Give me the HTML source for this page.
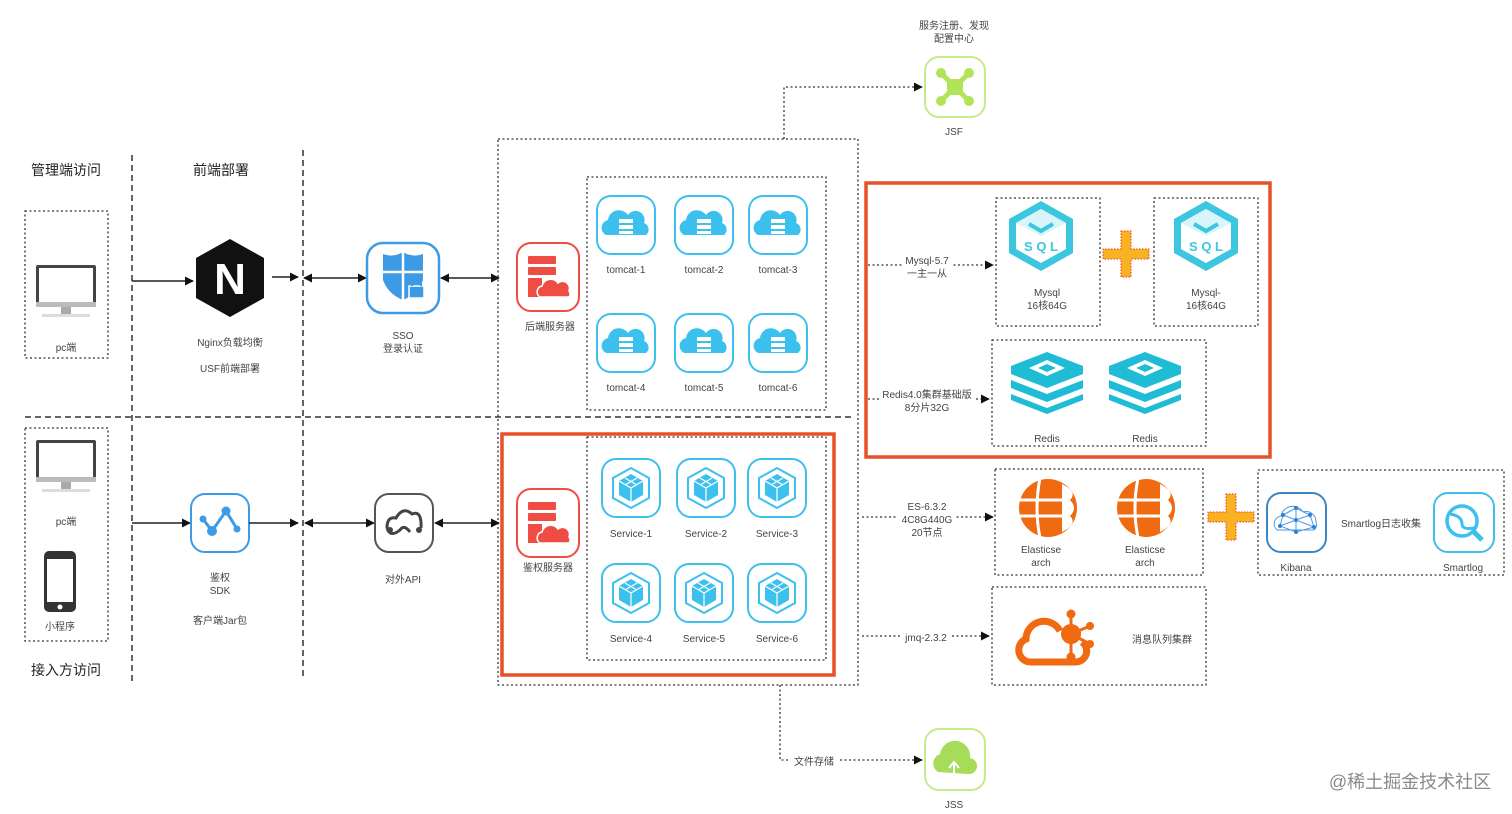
<!DOCTYPE html>
<html><head><meta charset="utf-8"><style>
html,body{margin:0;padding:0;background:#fff;}
svg{display:block;font-family:"Liberation Sans","Noto Sans CJK SC",sans-serif;}
.t{font-size:10px;fill:#444;text-anchor:middle;}
.h{font-size:14px;fill:#222;text-anchor:middle;}
.dot{fill:none;stroke:#333;stroke-width:1.3;stroke-dasharray:2,2.5;}
.dash{fill:none;stroke:#333;stroke-width:1.5;stroke-dasharray:6,4;}
.ln{stroke:#222;stroke-width:1.5;fill:none;}
</style></head><body>
<svg width="1512" height="814" viewBox="0 0 1512 814">
<defs>
<marker id="a" viewBox="0 0 10 10" refX="9" refY="5" markerWidth="9" markerHeight="9" orient="auto-start-reverse" markerUnits="userSpaceOnUse"><path d="M0,0L10,5L0,10z" fill="#111"/></marker>
<g id="tom"><rect x="-29" y="-29" width="58" height="58" rx="14" fill="#fff" stroke="#3cc0ee" stroke-width="2"/><path d="M-20,10 a8,8 0 0 1 2,-15 a11,11 0 0 1 20,-5 a9,9 0 0 1 16,8 a7,7 0 0 1 2,12z" fill="#3cc0ee"/><rect x="-7" y="-6" width="14" height="4" fill="#fff"/><rect x="-7" y="0" width="14" height="4" fill="#fff"/><rect x="-7" y="6" width="14" height="3" fill="#fff"/></g>
<g id="svc"><rect x="-29" y="-29" width="58" height="58" rx="14" fill="#fff" stroke="#3cc0ee" stroke-width="2"/><path d="M0,-20 L18,-10 L18,10 L0,20 L-18,10 L-18,-10z" fill="none" stroke="#3cc0ee" stroke-width="2"/><path d="M0,-14 L12,-7 L12,7 L0,14 L-12,7 L-12,-7z" fill="#3cc0ee"/><path d="M-12,-7 L0,0 L12,-7 M0,0 L0,14 M-6,-10 L6,-3 M6,-10 L-6,-3" stroke="#fff" stroke-width="1.2" fill="none"/></g>
<g id="srv"><rect x="-31" y="-34" width="62" height="68" rx="14" fill="#fff" stroke="#ef4d43" stroke-width="2"/><rect x="-20" y="-21" width="28" height="8" rx="1" fill="#ef4d43"/><rect x="-20" y="-10" width="28" height="8" rx="1" fill="#ef4d43"/><rect x="-20" y="1" width="14" height="19" fill="#ef4d43"/><path d="M-8,20 a6,6 0 0 1 2,-11 a9,9 0 0 1 16,-3 a7,7 0 0 1 11,8 a5,5 0 0 1 0,6z" fill="#ef4d43" stroke="#fff" stroke-width="1.5"/></g>
<g id="sql"><path d="M0,-35 L32,-17 L32,17 L0,35 L-32,17 L-32,-17z" fill="#3cc6e0"/><path d="M0,-27 L25,-13 L25,13 L0,27 L-25,13 L-25,-13z" fill="#fff"/><path d="M0,-27 L25,-13 L0,0 L-25,-13z" fill="#d8f5fb"/><path d="M-12,-12 L0,-5 L12,-12" stroke="#3cc6e0" stroke-width="4" fill="none"/><text x="0" y="15" font-size="13" font-weight="bold" fill="#3cc6e0" text-anchor="middle">S Q L</text></g>
<g id="redis"><path d="M0,-26 L36,-12 L36,-4 L0,10 L-36,-4 L-36,-12z" fill="#1fbcd6"/><path d="M-36,2 L0,16 L36,2 L36,10 L0,24 L-36,10z" fill="#1fbcd6"/><path d="M-36,16 L0,30 L36,16 L36,22 L0,36 L-36,22z" fill="#1fbcd6"/><path d="M0,-18 L18,-10 L0,-2 L-18,-10z" fill="#fff"/><path d="M0,-14 L9,-10 L0,-6 L-9,-10z" fill="#1fbcd6"/></g>
<g id="es"><circle r="29" fill="#f06a12"/><path d="M-8,-30 Q-14,0 -8,30 M-28,-8 L14,-8 M-28,8 L14,8" stroke="#fff" stroke-width="3" fill="none"/><path d="M14,-24 Q30,-16 22,-8 Q30,0 22,8 Q30,16 14,24" fill="#fff"/></g>
<g id="plus"><path d="M-5,-23 h10 v18 h18 v10 h-18 v18 h-10 v-18 h-18 v-10 h18z" fill="#f8b322" stroke="#e33" stroke-width="1" stroke-dasharray="1.5,1.5"/></g>
<g id="mon"><rect x="-30" y="-27" width="60" height="42" rx="2" fill="#444"/><rect x="-27" y="-24" width="54" height="34" fill="#fff"/><rect x="-30" y="10" width="60" height="5" fill="#bbb"/><rect x="-5" y="15" width="10" height="7" fill="#aaa"/><rect x="-24" y="22" width="48" height="3" fill="#ddd"/></g>
</defs>

<!-- headers -->
<text class="h" x="66" y="175">管理端访问</text>
<text class="h" x="221" y="175">前端部署</text>
<text class="h" x="66" y="675">接入方访问</text>

<!-- separators -->
<line class="dash" x1="132" y1="155" x2="132" y2="685"/>
<line class="dash" x1="303" y1="150" x2="303" y2="680"/>
<line class="dash" x1="25" y1="417" x2="855" y2="417"/>

<!-- top left -->
<rect class="dot" x="25" y="211" width="83" height="147"/>
<use href="#mon" x="66" y="292"/>
<text class="t" x="66" y="351">pc端</text>
<line class="ln" x1="132" y1="281" x2="193" y2="281" marker-end="url(#a)"/>
<path d="M230,239 L264,258 L264,298 L230,317 L196,298 L196,258z" fill="#111"/>
<text x="230" y="294" font-size="44" font-weight="bold" fill="#fff" text-anchor="middle">N</text>
<text class="t" x="230" y="346">Nginx负载均衡</text>
<text class="t" x="230" y="372">USF前端部署</text>
<line class="ln" x1="272" y1="277" x2="298" y2="277" marker-end="url(#a)"/>
<line class="ln" x1="304" y1="278" x2="366" y2="278" marker-start="url(#a)" marker-end="url(#a)"/>
<rect x="367" y="243" width="72" height="70" rx="16" fill="#fff" stroke="#3d9be6" stroke-width="2.5"/>
<path d="M383,254 Q393,258 403,252 Q413,258 423,254 L423,280 Q418,294 403,300 Q388,294 383,280z" fill="#3d9be6"/>
<path d="M403,252 L403,300 M383,272 L423,272" stroke="#fff" stroke-width="2.5"/>
<rect x="409" y="286" width="15" height="12" fill="#3d9be6" stroke="#fff" stroke-width="1.5"/><path d="M412,286 v-4 a4,4 0 0 1 9,0 v4" stroke="#3d9be6" stroke-width="2" fill="none"/>
<text class="t" x="403" y="339">SSO</text>
<text class="t" x="403" y="352">登录认证</text>
<line class="ln" x1="441" y1="278" x2="499" y2="278" marker-start="url(#a)" marker-end="url(#a)"/>

<!-- big dotted box -->
<rect class="dot" x="498" y="139" width="360" height="546"/>
<use href="#srv" x="548" y="277"/>
<text class="t" x="550" y="330">后端服务器</text>
<rect class="dot" x="587" y="177" width="239" height="233"/>
<use href="#tom" x="626" y="225"/><use href="#tom" x="704" y="225"/><use href="#tom" x="778" y="225"/>
<use href="#tom" x="626" y="343"/><use href="#tom" x="704" y="343"/><use href="#tom" x="778" y="343"/>
<text class="t" x="626" y="273">tomcat-1</text><text class="t" x="704" y="273">tomcat-2</text><text class="t" x="778" y="273">tomcat-3</text>
<text class="t" x="626" y="391">tomcat-4</text><text class="t" x="704" y="391">tomcat-5</text><text class="t" x="778" y="391">tomcat-6</text>

<!-- bottom left -->
<rect class="dot" x="25" y="428" width="83" height="213"/>
<use href="#mon" x="66" y="467"/>
<text class="t" x="66" y="525">pc端</text>
<rect x="44" y="551" width="32" height="61" rx="5" fill="#333"/><rect x="47" y="559" width="26" height="43" fill="#fff"/><circle cx="60" cy="607" r="2.5" fill="#fff"/>
<text class="t" x="60" y="630">小程序</text>
<line class="ln" x1="132" y1="523" x2="190" y2="523" marker-end="url(#a)"/>
<rect x="191" y="494" width="58" height="58" rx="14" fill="#fff" stroke="#3d9be6" stroke-width="2"/>
<path d="M203,519 L212,531 L226,511 L237,529" stroke="#3d9be6" stroke-width="3" fill="none"/>
<circle cx="203" cy="519" r="3.5" fill="#3d9be6"/><circle cx="212" cy="531" r="5" fill="#3d9be6"/><circle cx="226" cy="511" r="4.5" fill="#3d9be6"/><circle cx="237" cy="529" r="3.5" fill="#3d9be6"/>
<text class="t" x="220" y="581">鉴权</text><text class="t" x="220" y="594">SDK</text>
<text class="t" x="220" y="624">客户端Jar包</text>
<line class="ln" x1="249" y1="523" x2="298" y2="523" marker-end="url(#a)"/>
<line class="ln" x1="305" y1="523" x2="374" y2="523" marker-start="url(#a)" marker-end="url(#a)"/>
<rect x="375" y="494" width="58" height="58" rx="14" fill="#fff" stroke="#555" stroke-width="2"/>
<path d="M387,528 Q387,516 396,518 Q403,506 412,514 Q422,510 421,528 M387,528 Q390,538 400,530 Q404,524 410,532" stroke="#444" stroke-width="3" fill="none"/>
<circle cx="390" cy="530" r="3" fill="#444"/><circle cx="419" cy="530" r="3" fill="#444"/>
<text class="t" x="403" y="583">对外API</text>
<line class="ln" x1="435" y1="523" x2="499" y2="523" marker-start="url(#a)" marker-end="url(#a)"/>

<!-- auth red box -->
<rect x="502" y="434" width="332" height="241" fill="none" stroke="#e8502a" stroke-width="3.5"/>
<rect class="dot" x="587" y="437" width="239" height="223"/>
<use href="#srv" x="548" y="523"/>
<text class="t" x="548" y="571">鉴权服务器</text>
<use href="#svc" x="631" y="488"/><use href="#svc" x="706" y="488"/><use href="#svc" x="777" y="488"/>
<use href="#svc" x="631" y="593"/><use href="#svc" x="704" y="593"/><use href="#svc" x="777" y="593"/>
<text class="t" x="631" y="537">Service-1</text><text class="t" x="706" y="537">Service-2</text><text class="t" x="777" y="537">Service-3</text>
<text class="t" x="631" y="642">Service-4</text><text class="t" x="704" y="642">Service-5</text><text class="t" x="777" y="642">Service-6</text>

<!-- JSF -->
<text class="t" x="954" y="29">服务注册、发现</text>
<text class="t" x="954" y="42">配置中心</text>
<path class="dot" d="M784,139 V87 H922" marker-end="url(#a)"/>
<rect x="925" y="57" width="60" height="60" rx="14" fill="#fff" stroke="#c5ec8a" stroke-width="2"/>
<path d="M941,73 L969,101 M969,73 L941,101" stroke="#b2e45a" stroke-width="5"/>
<rect x="947" y="79" width="16" height="16" fill="#b2e45a"/>
<circle cx="941" cy="73" r="5" fill="#b2e45a"/><circle cx="969" cy="73" r="5" fill="#b2e45a"/><circle cx="941" cy="101" r="5" fill="#b2e45a"/><circle cx="969" cy="101" r="5" fill="#b2e45a"/>
<text class="t" x="954" y="135">JSF</text>

<!-- JSS -->
<path class="dot" d="M780,685 V760 H922" marker-end="url(#a)"/>
<rect x="790" y="754" width="48" height="13" fill="#fff"/>
<text class="t" x="814" y="765">文件存储</text>
<rect x="925" y="729" width="60" height="61" rx="14" fill="#fff" stroke="#c5ec8a" stroke-width="2"/>
<path d="M938,772 a10,10 0 0 1 2,-18 a15,15 0 0 1 30,4 a8,8 0 0 1 -2,16z" fill="#a6dc5a"/>
<path d="M954,775 v-12 m-5,5 l5,-6 l5,6" stroke="#fff" stroke-width="2" fill="none"/>
<text class="t" x="954" y="808">JSS</text>

<!-- data red box -->
<rect x="866" y="183" width="404" height="274" fill="none" stroke="#e8502a" stroke-width="3.5"/>
<rect class="dot" x="996" y="198" width="104" height="128"/>
<rect class="dot" x="1154" y="198" width="104" height="128"/>
<use href="#sql" x="1041" y="236"/><use href="#sql" x="1206" y="236"/>
<text class="t" x="1047" y="296">Mysql</text><text class="t" x="1047" y="309">16核64G</text>
<text class="t" x="1206" y="296">Mysql-</text><text class="t" x="1206" y="309">16核64G</text>
<use href="#plus" x="1126" y="254"/>
<path class="dot" d="M868,265 H993" marker-end="url(#a)"/>
<rect x="902" y="254" width="50" height="24" fill="#fff"/>
<text class="t" x="927" y="264">Mysql-5.7</text><text class="t" x="927" y="277">一主一从</text>
<rect class="dot" x="992" y="340" width="214" height="106"/>
<use href="#redis" x="1047" y="378"/><use href="#redis" x="1145" y="378"/>
<text class="t" x="1047" y="442">Redis</text><text class="t" x="1145" y="442">Redis</text>
<path class="dot" d="M868,399 H989" marker-end="url(#a)"/>
<rect x="880" y="388" width="96" height="25" fill="#fff"/>
<text class="t" x="927" y="398">Redis4.0集群基础版</text><text class="t" x="927" y="411">8分片32G</text>

<!-- ES -->
<rect class="dot" x="995" y="469" width="208" height="106"/>
<use href="#es" x="1048" y="508"/><use href="#es" x="1146" y="508"/>
<text class="t" x="1041" y="553">Elasticse</text><text class="t" x="1041" y="566">arch</text>
<text class="t" x="1145" y="553">Elasticse</text><text class="t" x="1145" y="566">arch</text>
<path class="dot" d="M862,517 H993" marker-end="url(#a)"/>
<rect x="898" y="500" width="58" height="38" fill="#fff"/>
<text class="t" x="927" y="510">ES-6.3.2</text><text class="t" x="927" y="523">4C8G440G</text><text class="t" x="927" y="536">20节点</text>
<use href="#plus" x="1231" y="517"/>
<rect class="dot" x="1258" y="470" width="246" height="105"/>
<rect x="1267" y="493" width="59" height="59" rx="14" fill="#fff" stroke="#3d86c6" stroke-width="2"/>
<path d="M1277,530 a8,8 0 0 1 4,-14 a12,12 0 0 1 22,-4 a10,10 0 0 1 13,10 a7,7 0 0 1 -2,8z" fill="none" stroke="#4a9ae0" stroke-width="1"/>
<path d="M1283,515 L1296,508 L1310,515 L1314,527 L1296,532 L1280,526 z M1283,515 L1296,520 L1310,515 M1296,508 L1296,532 M1280,526 L1296,520 L1314,527" stroke="#4a9ae0" stroke-width="1" fill="none"/>
<g fill="#2f7fd0"><circle cx="1283" cy="515" r="2"/><circle cx="1296" cy="508" r="2"/><circle cx="1310" cy="515" r="2"/><circle cx="1314" cy="527" r="2"/><circle cx="1296" cy="532" r="2"/><circle cx="1280" cy="526" r="2"/><circle cx="1296" cy="520" r="2"/></g>
<rect x="1434" y="493" width="60" height="59" rx="14" fill="#fff" stroke="#3cc0ee" stroke-width="2"/>
<circle cx="1462" cy="521" r="15" fill="none" stroke="#3cc0ee" stroke-width="3.5"/>
<path d="M1450,514 Q1462,516 1462,524 Q1462,530 1474,528" stroke="#3cc0ee" stroke-width="3" fill="none"/>
<path d="M1474,532 L1482,540" stroke="#3cc0ee" stroke-width="5"/>
<text class="t" x="1381" y="527">Smartlog日志收集</text>
<text class="t" x="1296" y="571">Kibana</text><text class="t" x="1463" y="571">Smartlog</text>

<!-- MQ -->
<rect class="dot" x="992" y="587" width="214" height="98"/>
<path d="M1030,662 a12,12 0 0 1 -4,-23 a18,18 0 0 1 34,-8 M1082,642 a11,11 0 0 1 -6,20 H1030" stroke="#f06a12" stroke-width="7" fill="none"/>
<circle cx="1071" cy="634" r="10" fill="#f06a12"/>
<g stroke="#f06a12" stroke-width="3"><line x1="1071" y1="634" x2="1071" y2="614"/><line x1="1071" y1="634" x2="1090" y2="626"/><line x1="1071" y1="634" x2="1090" y2="644"/><line x1="1071" y1="634" x2="1071" y2="656"/></g>
<g fill="#f06a12"><circle cx="1071" cy="614" r="4.5"/><circle cx="1090" cy="626" r="4"/><circle cx="1090" cy="644" r="4"/><circle cx="1071" cy="657" r="4.5"/></g>
<text class="t" x="1162" y="643">消息队列集群</text>
<path class="dot" d="M862,636 H989" marker-end="url(#a)"/>
<rect x="900" y="630" width="52" height="13" fill="#fff"/>
<text class="t" x="926" y="641">jmq-2.3.2</text>

<!-- watermark -->
<text x="1410" y="788" font-size="18" fill="#8a8a8a" text-anchor="middle">@稀土掘金技术社区</text>
</svg>
</body></html>
